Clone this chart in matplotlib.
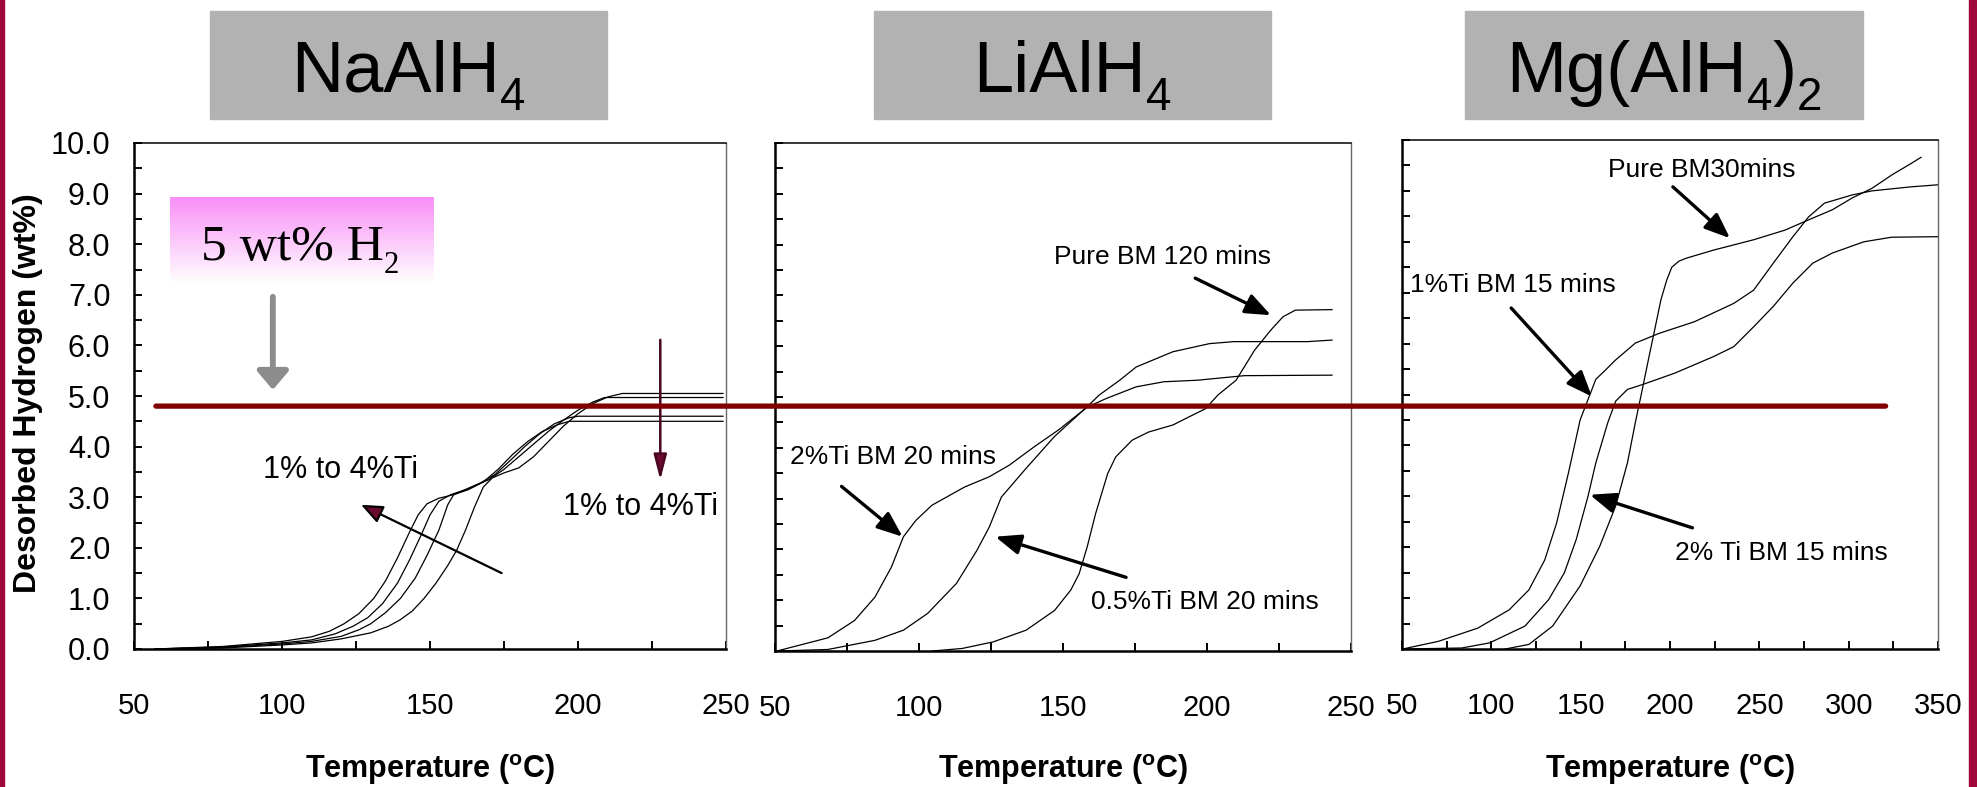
import numpy as np
import matplotlib
matplotlib.use("Agg")
import matplotlib.pyplot as plt
from matplotlib.patches import Rectangle, ConnectionPatch
from matplotlib.ticker import MultipleLocator, FormatStrFormatter
from matplotlib.colors import LinearSegmentedColormap
import matplotlib.transforms as mtransforms

plt.rcParams['font.family'] = ['Liberation Sans', 'DejaVu Sans']

W, H = 1977, 787

# ---- NaAlH4 (1% .. 4% Ti) ----
na_4_x = [57, 80, 100, 110, 116, 121, 126, 131, 135, 139, 143, 146, 149, 153, 158, 163, 168, 173, 178, 183, 188, 193, 197, 230, 249]
na_4_y = [0, 0.05, 0.15, 0.24, 0.35, 0.5, 0.7, 1.0, 1.35, 1.8, 2.3, 2.65, 2.87, 2.98, 3.05, 3.15, 3.3, 3.55, 3.85, 4.1, 4.3, 4.43, 4.5, 4.5, 4.5]
na_3_x = [57, 80, 100, 110, 118, 124, 129, 134, 139, 143, 147, 150, 153, 157, 162, 167, 172, 177, 182, 187, 192, 197, 200, 230, 249]
na_3_y = [0, 0.04, 0.12, 0.18, 0.3, 0.45, 0.62, 0.9, 1.3, 1.75, 2.25, 2.65, 2.92, 3.05, 3.15, 3.28, 3.45, 3.72, 4.0, 4.25, 4.45, 4.57, 4.6, 4.6, 4.6]
na_2_x = [57, 80, 100, 110, 120, 126, 130, 135, 140, 145, 149, 153, 156, 158, 162, 166, 170, 175, 180, 185, 190, 195, 200, 205, 209, 230, 249]
na_2_y = [0, 0.03, 0.1, 0.15, 0.25, 0.38, 0.5, 0.72, 1.0, 1.4, 1.85, 2.35, 2.85, 3.05, 3.15, 3.25, 3.35, 3.55, 3.8, 4.05, 4.3, 4.52, 4.72, 4.88, 4.97, 4.97, 4.97]
na_1_x = [57, 80, 100, 110, 120, 130, 136, 140, 144, 148, 152, 156, 159, 162, 165, 168, 171, 175, 180, 185, 190, 195, 200, 205, 210, 215, 230, 249]
na_1_y = [0, 0.02, 0.08, 0.12, 0.2, 0.32, 0.45, 0.58, 0.75, 1.0, 1.3, 1.65, 1.95, 2.35, 2.8, 3.2, 3.38, 3.48, 3.58, 3.8, 4.1, 4.4, 4.65, 4.85, 4.98, 5.05, 5.05, 5.05]

# ---- LiAlH4 ----
li_pure_x = [104.6, 115, 125.8, 137.2, 147.1, 152.7, 155.6, 158.4, 161.3, 165.5, 168.3, 174, 179.7, 188.2, 193.8, 199.5, 203.8, 210.1, 216.5, 222.2, 226.4, 230.7, 243.4]
li_pure_y = [0, 0.05, 0.18, 0.41, 0.8, 1.2, 1.52, 2.05, 2.7, 3.49, 3.82, 4.15, 4.31, 4.45, 4.61, 4.77, 5.04, 5.33, 5.92, 6.32, 6.58, 6.71, 6.72]
li_05_x = [50.7, 68.4, 84.7, 94.6, 103, 113, 120.1, 124.4, 128.6, 137.1, 147, 158.4, 162.6, 169.7, 175.4, 188.1, 200.8, 209.3, 234.9, 243.4]
li_05_y = [0, 0.03, 0.21, 0.41, 0.74, 1.33, 1.98, 2.44, 3.03, 3.59, 4.22, 4.81, 5.04, 5.33, 5.59, 5.89, 6.05, 6.09, 6.09, 6.12]
li_2_x = [50.7, 68.4, 77.6, 84.7, 90.4, 94.6, 98.9, 104.5, 115.9, 124.4, 131.4, 140, 148.4, 158.4, 165, 175.4, 185, 196.6, 213, 243.4]
li_2_y = [0, 0.26, 0.6, 1.06, 1.65, 2.25, 2.57, 2.87, 3.23, 3.43, 3.66, 4.02, 4.35, 4.8, 4.97, 5.2, 5.3, 5.33, 5.42, 5.43]

# ---- Mg(AlH4)2 ----
mg_pure_x = [107.8, 121, 134.3, 149.7, 160.7, 169.6, 176.2, 180.6, 184.5, 188, 191.6, 194.9, 198.2, 201, 205, 209.3, 224.7, 246.8, 264.4, 275.5, 290.9, 301.9, 313, 324, 335, 340.5]
mg_pure_y = [0, 0.09, 0.45, 1.24, 2.02, 2.81, 3.66, 4.45, 5.1, 5.7, 6.3, 6.86, 7.25, 7.5, 7.62, 7.68, 7.84, 8.04, 8.23, 8.4, 8.63, 8.86, 9.05, 9.31, 9.54, 9.66]
mg_1_x = [50.4, 70.3, 92.4, 110, 121, 129.9, 136.5, 143.1, 149.7, 154.1, 158.5, 163, 169.6, 180.6, 193.8, 213.7, 235.7, 246.8, 257.8, 268.8, 277.6, 286.5, 301.9, 312.9, 335, 350]
mg_1_y = [0, 0.15, 0.41, 0.77, 1.16, 1.75, 2.47, 3.45, 4.5, 4.9, 5.3, 5.45, 5.68, 6.01, 6.2, 6.43, 6.79, 7.05, 7.58, 8.1, 8.49, 8.76, 8.92, 9.0, 9.08, 9.12]
mg_2_x = [52, 83.5, 99, 118.8, 132.1, 140.9, 147.5, 154.1, 158.5, 165.2, 169.6, 176.2, 185, 202.7, 224.7, 235.7, 246.8, 257.8, 268.8, 279.9, 290.9, 308.5, 324, 350]
mg_2_y = [0, 0.02, 0.12, 0.45, 0.97, 1.5, 2.15, 3.0, 3.66, 4.45, 4.87, 5.1, 5.2, 5.42, 5.75, 5.94, 6.33, 6.73, 7.19, 7.58, 7.78, 8.0, 8.09, 8.1]

# titles as (text, is_subscript) pieces
titles = [[("NaAlH", False), ("4", True)],
          [("LiAlH", False), ("4", True)],
          [("Mg(AlH", False), ("4", True), (")", False), ("2", True)]]
target_wt = 4.8


def px_axes(l, t, r, b):
    return [l / W, 1 - b / H, (r - l) / W, (b - t) / H]


fig = plt.figure(figsize=(W / 100, H / 100), dpi=100)
renderer = fig.canvas.get_renderer()


def chem_text(cx, base, pieces, size, sub_size, drop, family='Liberation Sans', **kw):
    # lay out text pieces left to right, centred on cx (pixels from left), baseline at base (pixels from top)
    objs = []
    for s, sub in pieces:
        t = fig.text(0, 0, s, fontsize=sub_size if sub else size, family=family,
                     ha='left', va='baseline', **kw)
        objs.append((t, sub, t.get_window_extent(renderer).width))
    total = sum(w for _, _, w in objs)
    x = cx - total / 2
    for t, sub, w in objs:
        y = base + (drop if sub else 0)
        t.set_position((x / W, 1 - y / H))
        x += w


ax1 = fig.add_axes(px_axes(134, 143, 726, 649))
ax2 = fig.add_axes(px_axes(775, 143, 1351, 651))
ax3 = fig.add_axes(px_axes(1402, 140, 1938, 649))

for ax, xmax in [(ax1, 250), (ax2, 250), (ax3, 350)]:
    ax.set_xlim(50, xmax)
    ax.set_ylim(0, 10)
    ax.xaxis.set_major_locator(MultipleLocator(50))
    ax.xaxis.set_minor_locator(MultipleLocator(25))
    ax.yaxis.set_major_locator(MultipleLocator(1))
    ax.yaxis.set_minor_locator(MultipleLocator(0.5))
    ax.tick_params(which='both', direction='in', length=6, width=1.4,
                   top=False, right=False)
    ax.tick_params(axis='x', which='major', pad=31, labelsize=21)
    ax.tick_params(axis='y', which='major', pad=17, labelsize=22)
    ax.spines['left'].set_linewidth(1.8)
    ax.spines['bottom'].set_linewidth(1.8)
    ax.spines['top'].set_linewidth(1.1)
    ax.spines['right'].set_linewidth(1.0)
    ax.spines['right'].set_color('#666666')

ax1.yaxis.set_major_formatter(FormatStrFormatter('%.1f'))
ax2.tick_params(axis='y', labelleft=False)
ax3.tick_params(axis='y', labelleft=False)

for ax in (ax2, ax3):
    ticks = ax.get_xticks()
    ax.set_xticks(ticks)
    ax.set_xticklabels([str(int(t)) for t in ticks])
    ax.get_xticklabels()[0].set_fontweight('bold')
    ax.set_xlim(50, 250 if ax is ax2 else 350)

lw = 0.9
for xs, ys in [(na_4_x, na_4_y), (na_3_x, na_3_y), (na_2_x, na_2_y), (na_1_x, na_1_y)]:
    ax1.plot(xs, ys, color='black', lw=lw)
for xs, ys in [(li_pure_x, li_pure_y), (li_05_x, li_05_y), (li_2_x, li_2_y)]:
    ax2.plot(xs, ys, color='black', lw=lw)
for xs, ys in [(mg_pure_x, mg_pure_y), (mg_1_x, mg_1_y), (mg_2_x, mg_2_y)]:
    ax3.plot(xs, ys, color='black', lw=lw)

# pink "5 wt% H2" box
pink = LinearSegmentedColormap.from_list('pink', ['#FFFFFF', '#F98FF7'])
grad = np.linspace(0, 1, 100).reshape(-1, 1)
ax1.imshow(grad, extent=(62.1, 151, 7.23, 8.91), origin='lower', aspect='auto',
           cmap=pink, zorder=1)
ax1.set_xlim(50, 250)
ax1.set_ylim(0, 10)
chem_text(300, 260, [("5 wt% H", False), ("2", True)], 37, 22, 13,
          family='Liberation Serif')
ax1.annotate('', xy=(96.9, 5.12), xytext=(96.9, 6.96),
             arrowprops=dict(arrowstyle='-|>,head_length=0.45,head_width=0.38',
                             mutation_scale=25, lw=4.2, color='#8C8C8C',
                             shrinkA=0, shrinkB=0))

txt = dict(fontsize=22, ha='center', va='center')
ax1.text(119.9, 3.54, "1% to 4%Ti", **txt)
ax1.text(221.2, 2.81, "1% to 4%Ti", **txt)
ax1.annotate('', xy=(126.7, 2.85), xytext=(174.2, 1.5),
             arrowprops=dict(arrowstyle='-|>,head_length=0.6,head_width=0.25',
                             mutation_scale=22, lw=1.6, fc='#6B0A30', ec='black',
                             shrinkA=0, shrinkB=0))
ax1.annotate('', xy=(227.8, 3.34), xytext=(227.8, 6.11),
             arrowprops=dict(arrowstyle='-|>,head_length=0.7,head_width=0.18',
                             mutation_scale=22, lw=1.8, fc='#6B0A30', ec='#4A0620',
                             shrinkA=0, shrinkB=0), zorder=6)

ann = dict(fontsize=19, ha='center', va='center')
arr = dict(arrowstyle='-|>,head_length=0.7,head_width=0.28', mutation_scale=22,
           lw=2.4, color='black', shrinkA=0, shrinkB=0)
ax2.text(184.5, 7.76, "Pure BM 120 mins", **ann)
ax2.annotate('', xy=(222.2, 6.61), xytext=(195.9, 7.34), arrowprops=arr)
ax2.text(91.0, 3.82, "2%Ti BM 20 mins", **ann)
ax2.annotate('', xy=(94.3, 2.25), xytext=(73.1, 3.24), arrowprops=arr)
ax2.text(199.1, 0.97, "0.5%Ti BM 20 mins", **ann)
ax2.annotate('', xy=(126.5, 2.25), xytext=(171.9, 1.45), arrowprops=arr)

ax3.text(217.9, 9.41, "Pure BM30mins", **ann)
ax3.annotate('', xy=(233.6, 8.07), xytext=(201.6, 9.08), arrowprops=arr)
ax3.text(112.3, 7.15, "1%Ti BM 15 mins", **ann)
ax3.annotate('', xy=(156.3, 4.96), xytext=(111.1, 6.7), arrowprops=arr)
ax3.text(262.2, 1.88, "2% Ti BM 15 mins", **ann)
ax3.annotate('', xy=(155.2, 3.03), xytext=(212.6, 2.38), arrowprops=arr)

# 5 wt% target line across all panels
trans_b = mtransforms.blended_transform_factory(ax3.transData, ax1.transData)
line = ConnectionPatch(xyA=(57.4, target_wt), coordsA=ax1.transData,
                       xyB=(320.7, target_wt), coordsB=trans_b,
                       color='#800000', lw=3.8, zorder=5)
fig.add_artist(line)

# title boxes
for (l, r), pieces in zip([(210, 607), (874, 1271), (1465, 1863)], titles):
    fig.add_artist(Rectangle((l / W, 1 - 119 / H), (r - l) / W, 108 / H,
                             transform=fig.transFigure, color='#B2B2B2', zorder=0))
    chem_text((l + r) / 2, 92, pieces, 52, 33, 18)

fig.text(28 / W, 1 - 393 / H, "Desorbed Hydrogen (wt%)", rotation=90,
         fontsize=23, fontweight='bold', ha='center', va='center')
for cx in [430, 1063, 1670]:
    fig.text(cx / W, 1 - 778 / H, "Temperature ($^\\mathregular{o}$C)",
             fontsize=22, fontweight='bold', ha='center', va='baseline')

# side strips
fig.add_artist(Rectangle((0, 0), 4 / W, 1, transform=fig.transFigure, color='#A0083C'))
fig.add_artist(Rectangle((1969 / W, 0), 8 / W, 1, transform=fig.transFigure, color='#A0083C'))

fig.savefig("out.png", dpi=100)
